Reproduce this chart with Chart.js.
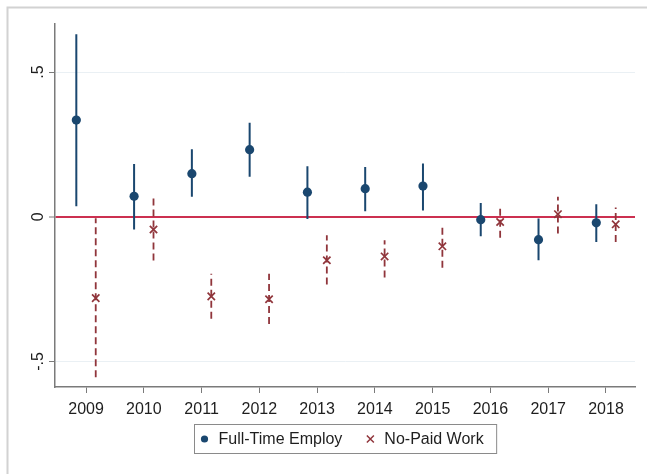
<!DOCTYPE html>
<html>
<head>
<meta charset="utf-8">
<title>Coefficient plot by year</title>
<script src="https://cdn.jsdelivr.net/npm/chart.js@4/dist/chart.umd.min.js"></script>
<style>
  html, body { margin: 0; padding: 0; background: #ffffff; }
  #wrap { position: relative; width: 647px; height: 474px; }
</style>
</head>
<body>
<div id="wrap"><canvas id="chart"></canvas></div>
<script>
// Survey years on the horizontal axis
const years = [2009, 2010, 2011, 2012, 2013, 2014, 2015, 2016, 2017, 2018];

// Full-time employment: point estimate and confidence bounds
const ftCoef = [0.334, 0.071, 0.149, 0.232, 0.085, 0.097, 0.106, -0.010, -0.079, -0.021];
const ftLow  = [0.036, -0.044, 0.069, 0.138, -0.008, 0.019, 0.022, -0.067, -0.150, -0.087];
const ftHigh = [0.631, 0.182, 0.233, 0.325, 0.175, 0.172, 0.184, 0.048, -0.006, 0.043];

// No paid work: point estimate and confidence bounds
const npCoef = [-0.281, -0.044, -0.275, -0.285, -0.150, -0.137, -0.102, -0.018, 0.009, -0.026];
const npLow  = [-0.554, -0.151, -0.352, -0.370, -0.234, -0.210, -0.176, -0.072, -0.058, -0.087];
const npHigh = [-0.005, 0.064, -0.197, -0.197, -0.064, -0.081, -0.024, 0.032, 0.069, 0.032];

// Vertical axis ticks and their labels
const yTickValues = [-0.5, 0, 0.5];
const yTickLabels = ['-.5', '0', '.5'];

const seriesNames = ['Full-Time Employ', 'No-Paid Work'];

const NAVY = '#1a476f';
const MAROON = '#90353b';
const ZERO_LINE = '#cc3050';
const AXIS = '#7a7a7a';
const FONT = '"Liberation Sans", Arial, Helvetica, sans-serif';

// Side-by-side placement of the two series within each year
const SHIFT = 0.168;

function points(vals, dx) {
  return years.map((yr, i) => ({ x: yr + dx, y: vals[i] }));
}
function intervals(lo, hi, dx) {
  const out = [];
  years.forEach((yr, i) => {
    out.push({ x: yr + dx, y: lo[i] });
    out.push({ x: yr + dx, y: hi[i] });
    out.push({ x: yr + dx, y: null });
  });
  return out;
}

// Light frame around the whole figure
const framePlugin = {
  id: 'frame',
  beforeDraw(chart) {
    const ctx = chart.ctx;
    ctx.save();
    ctx.fillStyle = '#ffffff';
    ctx.fillRect(0, 0, chart.width, chart.height);
    ctx.strokeStyle = '#d2d2d2';
    ctx.lineWidth = 2;
    ctx.strokeRect(7.5, 7.5, chart.width + 20, chart.height + 20);
    ctx.restore();
  }
};

// Rotated y tick labels, placed at the scale's own tick positions
const yLabelPlugin = {
  id: 'yLabels',
  afterDraw(chart) {
    const ctx = chart.ctx;
    const ys = chart.scales.y;
    ctx.save();
    ctx.font = '16px ' + FONT;
    ctx.fillStyle = '#1e1e1e';
    ctx.textAlign = 'center';
    ctx.textBaseline = 'alphabetic';
    yTickValues.forEach((v, i) => {
      const py = ys.getPixelForValue(v);
      ctx.save();
      ctx.translate(ys.right - 12.5, py);
      ctx.rotate(-Math.PI / 2);
      ctx.fillText(yTickLabels[i], 0, 0);
      ctx.restore();
    });
    ctx.restore();
  }
};

// Boxed legend centred under the plot region
const legendPlugin = {
  id: 'boxLegend',
  afterDraw(chart) {
    const ctx = chart.ctx;
    const area = chart.chartArea;
    ctx.save();
    ctx.font = '16px ' + FONT;
    const w1 = ctx.measureText(seriesNames[0]).width;
    const w2 = ctx.measureText(seriesNames[1]).width;
    const boxW = 24 + w1 + 28 + 14 + w2 + 13;
    const boxH = 29;
    const left = Math.round((area.left + area.right) / 2 - boxW / 2) + 0.5;
    const top = 424.5;
    const cy = top + boxH / 2;
    ctx.strokeStyle = '#8a8a8a';
    ctx.lineWidth = 1;
    ctx.strokeRect(left, top, boxW, boxH);

    // circle marker
    ctx.fillStyle = NAVY;
    ctx.beginPath();
    ctx.arc(left + 10, cy, 3.6, 0, Math.PI * 2);
    ctx.fill();

    ctx.fillStyle = '#1e1e1e';
    ctx.textAlign = 'left';
    ctx.textBaseline = 'middle';
    ctx.fillText(seriesNames[0], left + 24, cy + 0.5);

    // cross marker
    const cx = left + 24 + w1 + 28;
    ctx.strokeStyle = MAROON;
    ctx.lineWidth = 1.5;
    ctx.beginPath();
    ctx.moveTo(cx - 3.5, cy - 3.5); ctx.lineTo(cx + 3.5, cy + 3.5);
    ctx.moveTo(cx + 3.5, cy - 3.5); ctx.lineTo(cx - 3.5, cy + 3.5);
    ctx.stroke();

    ctx.fillStyle = '#1e1e1e';
    ctx.fillText(seriesNames[1], cx + 14, cy + 0.5);
    ctx.restore();
  }
};

new Chart(document.getElementById('chart'), {
  type: 'line',
  data: {
    datasets: [
      {
        label: seriesNames[0],
        type: 'scatter',
        data: points(ftCoef, -SHIFT),
        pointStyle: 'circle',
        pointRadius: 4.6,
        pointBackgroundColor: NAVY,
        pointBorderWidth: 0,
        showLine: false
      },
      {
        label: seriesNames[1],
        type: 'scatter',
        data: points(npCoef, SHIFT),
        pointStyle: 'crossRot',
        pointRadius: 5.2,
        pointBorderColor: MAROON,
        pointBorderWidth: 1.7,
        showLine: false
      },
      {
        label: seriesNames[0] + ' CI',
        data: intervals(ftLow, ftHigh, -SHIFT),
        borderColor: NAVY,
        borderWidth: 2,
        pointRadius: 0,
        spanGaps: false,
        tension: 0
      },
      {
        label: seriesNames[1] + ' CI',
        data: intervals(npLow, npHigh, SHIFT),
        borderColor: MAROON,
        borderWidth: 1.8,
        borderDash: [7, 4],
        pointRadius: 0,
        spanGaps: false,
        tension: 0
      }
    ]
  },
  options: {
    responsive: true,
    maintainAspectRatio: false,
    animation: false,
    events: [],
    layout: { padding: { top: 24, right: 12, bottom: 51, left: 0 } },
    plugins: {
      legend: { display: false },
      tooltip: { enabled: false },
      title: { display: false }
    },
    scales: {
      x: {
        type: 'linear',
        min: 2008.463,
        max: 2018.502,
        afterFit(scale) { scale.height = 36; },
        afterBuildTicks(scale) { scale.ticks = years.map(v => ({ value: v })); },
        grid: {
          drawOnChartArea: false,
          drawTicks: true,
          tickLength: 6,
          tickColor: AXIS,
          tickWidth: 1
        },
        border: { display: true, color: AXIS, width: 1.5 },
        ticks: {
          autoSkip: false,
          maxRotation: 0,
          padding: 7,
          color: '#1e1e1e',
          font: { family: FONT, size: 16 },
          callback: v => String(v)
        }
      },
      y: {
        type: 'linear',
        min: -0.588,
        max: 0.666,
        afterFit(scale) { scale.width = 55; },
        afterBuildTicks(scale) { scale.ticks = yTickValues.map(v => ({ value: v })); },
        grid: {
          drawOnChartArea: true,
          drawTicks: true,
          tickLength: 6,
          color: ctx => (ctx.tick && ctx.tick.value === 0 ? ZERO_LINE : '#eaf0f4'),
          lineWidth: ctx => (ctx.tick && ctx.tick.value === 0 ? 2 : 1),
          tickColor: AXIS,
          tickWidth: 1
        },
        border: { display: true, color: AXIS, width: 1.5 },
        ticks: { display: false }
      }
    }
  },
  plugins: [framePlugin, yLabelPlugin, legendPlugin]
});
</script>
</body>
</html>
